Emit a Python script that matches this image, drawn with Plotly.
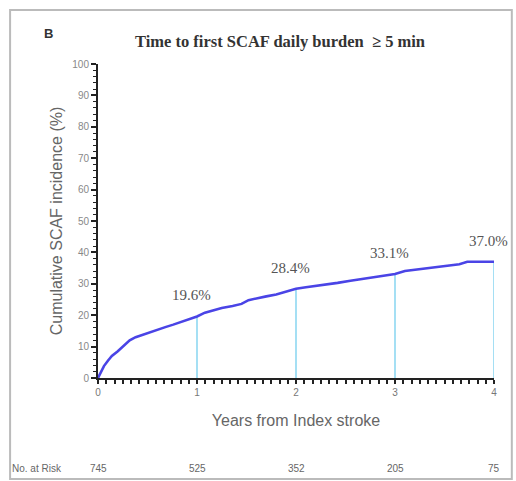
import plotly.graph_objects as go

# Cumulative incidence curve (years, %)
years = [0, 0.03, 0.06, 0.1, 0.14, 0.2, 0.26, 0.32, 0.38, 0.45, 0.52, 0.6, 0.68,
         0.76, 0.84, 0.92, 1.0, 1.08, 1.16, 1.25, 1.36, 1.45, 1.52, 1.6, 1.7, 1.8,
         1.9, 2.0, 2.1, 2.2, 2.3, 2.42, 2.55, 2.68, 2.8, 2.9, 3.0, 3.1, 3.2, 3.3,
         3.42, 3.55, 3.65, 3.73, 4.0]
incidence = [0, 2.0, 3.8, 5.5, 7.0, 8.5, 10.2, 12.0, 13.0, 13.8, 14.6, 15.4, 16.2,
             17.0, 17.8, 18.8, 19.6, 20.8, 21.6, 22.3, 22.9, 23.6, 24.8, 25.4, 26.0,
             26.6, 27.4, 28.4, 28.9, 29.3, 29.7, 30.3, 31.0, 31.6, 32.2, 32.6, 33.1,
             34.1, 34.5, 34.9, 35.4, 35.8, 36.2, 37.0, 37.0]

# Yearly landmark estimates
landmark_years = [1, 2, 3, 4]
landmark_values = [19.6, 28.4, 33.1, 37.0]
landmark_labels = ["19.6%", "28.4%", "33.1%", "37.0%"]

# Number at risk
risk_years = [0, 1, 2, 3, 4]
risk_counts = ["745", "525", "352", "205", "75"]

fig = go.Figure()

# Vertical drop lines at each landmark year
for yr, val in zip(landmark_years, landmark_values):
    fig.add_trace(go.Scatter(
        x=[yr, yr], y=[0, val], mode="lines",
        line=dict(color="#8fd8f2", width=1.6),
        hoverinfo="skip", showlegend=False, cliponaxis=False))

fig.add_trace(go.Scatter(
    x=years, y=incidence, mode="lines",
    line=dict(color="#4a44e6", width=2.6),
    showlegend=False, cliponaxis=False))

for yr, val, lab in zip(landmark_years, landmark_values, landmark_labels):
    fig.add_annotation(
        x=yr - 0.06, y=val, text=lab, showarrow=False,
        yshift=21, xanchor="center", yanchor="middle",
        font=dict(family="Liberation Serif", size=15, color="#555555"))

for yr, n in zip(risk_years, risk_counts):
    fig.add_annotation(
        x=yr, y=-0.289, xref="x", yref="paper", text=n, showarrow=False,
        xanchor="center", yanchor="middle",
        font=dict(family="Liberation Sans", size=10, color="#666666"))

fig.add_annotation(
    x=-0.222, y=-0.289, xref="paper", yref="paper", text="No. at Risk",
    showarrow=False, xanchor="left", yanchor="middle",
    font=dict(family="Liberation Sans", size=10, color="#666666"))

# Panel letter and title
fig.add_annotation(
    x=-0.125, y=1.097, xref="paper", yref="paper", text="<b>B</b>",
    showarrow=False, xanchor="center", yanchor="middle",
    font=dict(family="Liberation Sans", size=13, color="#333333"))
fig.add_annotation(
    x=0.46, y=1.072, xref="paper", yref="paper",
    text="<b>Time to first SCAF daily burden  ≥ 5 min</b>",
    showarrow=False, xanchor="center", yanchor="middle",
    font=dict(family="Liberation Serif", size=16.5, color="#333333"))

# Panel frame
fig.add_shape(type="rect", xref="paper", yref="paper",
              x0=-0.222, x1=1.045, y0=-0.322, y1=1.172,
              line=dict(color="#bbbbbb", width=2))

fig.update_layout(
    width=516, height=481,
    margin=dict(l=98, r=22, t=64, b=103),
    paper_bgcolor="white", plot_bgcolor="white",
    xaxis=dict(
        range=[0, 4], tickvals=[0, 1, 2, 3, 4], showgrid=False, zeroline=False,
        showline=True, linecolor="#222222", linewidth=2,
        ticks="outside", ticklen=4, tickcolor="#222222", tickwidth=1.5,
        minor=dict(dtick=1 / 12, tick0=0, ticks="outside", ticklen=4,
                   tickcolor="#222222", tickwidth=1.5, showgrid=False),
        tickfont=dict(family="Liberation Sans", size=10, color="#777777"),
        title=dict(text="Years from Index stroke", standoff=18,
                   font=dict(family="Liberation Sans", size=16, color="#666666"))),
    yaxis=dict(
        range=[0, 100], tickvals=list(range(0, 101, 10)), showgrid=False,
        zeroline=False, showline=True, linecolor="#222222", linewidth=2,
        ticks="outside", ticklen=5, tickcolor="#222222", tickwidth=1.5,
        minor=dict(dtick=2, ticks="outside", ticklen=3, tickcolor="#222222",
                   tickwidth=1, showgrid=False),
        tickfont=dict(family="Liberation Sans", size=10, color="#888888"),
        title=dict(text="Cumulative SCAF incidence (%)", standoff=6,
                   font=dict(family="Liberation Sans", size=16, color="#666666"))),
)

fig.write_html("out.html")
